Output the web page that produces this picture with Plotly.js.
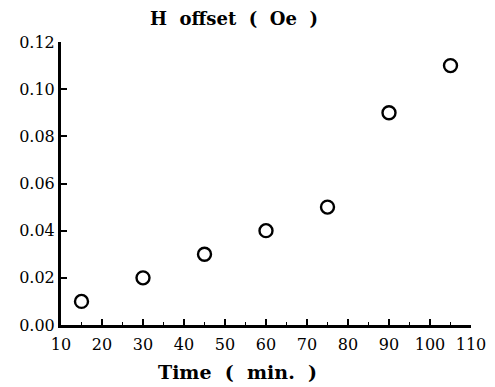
<!DOCTYPE html>
<html><head><meta charset="utf-8">
<script src="https://cdn.plot.ly/plotly-3.0.1.min.js"></script>
<style>html,body{margin:0;padding:0;background:#fff;}#chart{width:495px;height:387px;}</style>
</head><body><div id="chart"></div>
<script>
const timeMin = [15, 30, 45, 60, 75, 90, 105];
const hOffset = [0.01, 0.02, 0.03, 0.04, 0.05, 0.09, 0.11];
const xTicks = [10, 20, 30, 40, 50, 60, 70, 80, 90, 100, 110];
const yTicks = [0.00, 0.02, 0.04, 0.06, 0.08, 0.10, 0.12];
const titleText = 'H&nbsp;&nbsp;offset&nbsp;&nbsp;(&nbsp;&nbsp;Oe&nbsp;&nbsp;)';
const xTitleText = 'Time&nbsp;&nbsp;(&nbsp;&nbsp;min.&nbsp;&nbsp;)';

const font = 'DejaVu Serif, serif';
const trace = {
  x: timeMin, y: hOffset, type: 'scatter', mode: 'markers',
  marker: {symbol: 'circle-open', size: 13, color: '#000', line: {width: 2.4, color: '#000'}},
  showlegend: false
};
const layout = {
  width: 495, height: 387,
  margin: {l: 61, r: 24, t: 42, b: 62},
  paper_bgcolor: '#fff', plot_bgcolor: '#fff',
  font: {family: font, color: '#000'},
  xaxis: {
    range: [10, 110], tickvals: xTicks, ticktext: xTicks.map(String),
    showgrid: false, zeroline: false, showline: true, linewidth: 3, linecolor: '#000',
    ticks: 'inside', ticklen: 6, tickwidth: 2, tickcolor: '#000',
    minor: {dtick: 5, tick0: 5, ticks: 'inside', ticklen: 3, tickwidth: 1.5, tickcolor: '#000'},
    ticklabelstandoff: 3,
    tickfont: {family: font, size: 16, color: '#000'}
  },
  yaxis: {
    range: [0, 0.12], tickvals: yTicks, ticktext: yTicks.map(v => v.toFixed(2)),
    showgrid: false, zeroline: false, showline: true, linewidth: 3, linecolor: '#000',
    ticks: 'inside', ticklen: 6, tickwidth: 2, tickcolor: '#000',
    tickfont: {family: font, size: 16, color: '#000'}
  },
  annotations: [
    {text: '<b>' + titleText + '</b>', xref: 'paper', yref: 'paper', x: (234 - 61) / 410, y: 1 + (42 - 18) / 283,
     xanchor: 'center', yanchor: 'middle', showarrow: false, font: {family: font, size: 18, color: '#000'}},
    {text: '<b>' + xTitleText + '</b>', xref: 'paper', yref: 'paper', x: (237 - 61) / 410, y: -(372 - 325) / 283,
     xanchor: 'center', yanchor: 'middle', showarrow: false, font: {family: font, size: 19, color: '#000'}}
  ]
};
Plotly.newPlot('chart', [trace], layout, {displayModeBar: false, staticPlot: true});
</script></body></html>
